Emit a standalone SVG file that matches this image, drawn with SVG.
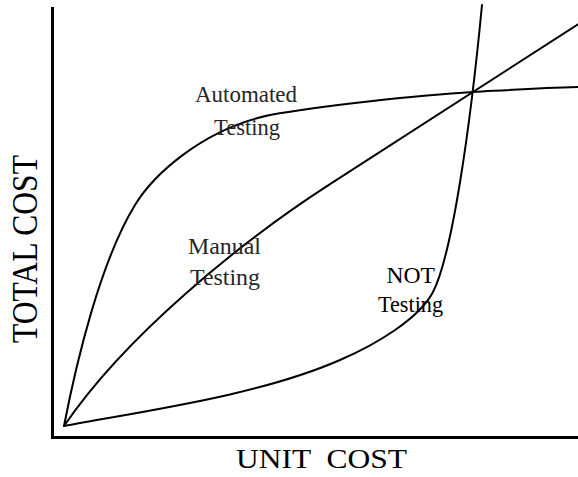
<svg xmlns="http://www.w3.org/2000/svg" width="578" height="477" viewBox="0 0 578 477">
  <style>
    .axis { stroke: #000; stroke-width: 3; fill: none; }
    .curve { stroke: #000; stroke-width: 2; fill: none; stroke-linecap: round; stroke-linejoin: round; }
    .lbl { font-family: "Liberation Serif", "Times New Roman", serif; font-size: 23px; fill: #262626; }
    .lbl2 { font-family: "Liberation Serif", "Times New Roman", serif; font-size: 23px; fill: #000; }
    .axlbl { font-family: "Liberation Serif", "Times New Roman", serif; fill: #000; white-space: pre; }
  </style>
  <rect x="0" y="0" width="578" height="477" fill="#fff"/>
  <g id="axes">
    <line class="axis" x1="52.5" y1="7" x2="52.5" y2="439"/>
    <line class="axis" x1="51" y1="437.5" x2="578" y2="437.5"/>
  </g>
  <g id="connectors">
    <path id="automated-curve" class="curve" d="M64,426 C76,364 100,262 135,205 C152,177 200,130 270,115 C320,106 420,95 473,92 S540,88 578,87"/>
    <path id="manual-curve" class="curve" d="M64,426 C125,336 240,242.3 330,184.2 L578,24.3"/>
    <path id="not-curve" class="curve" d="M64,426 C150,410 260,395 340,360 C375,345 419,319 433,292 C452,255 470,130 482,5"/>
  </g>
  <g id="label-automated">
    <text class="lbl" x="195" y="102" textLength="102" lengthAdjust="spacingAndGlyphs">Automated</text>
    <text class="lbl" x="214" y="135" textLength="66" lengthAdjust="spacingAndGlyphs">Testing</text>
  </g>
  <g id="label-manual">
    <text class="lbl" x="188" y="254" textLength="73" lengthAdjust="spacingAndGlyphs">Manual</text>
    <text class="lbl" x="190" y="285" textLength="70" lengthAdjust="spacingAndGlyphs">Testing</text>
  </g>
  <g id="label-not">
    <text class="lbl2" x="386.5" y="283" textLength="48.5" lengthAdjust="spacingAndGlyphs">NOT</text>
    <text class="lbl2" x="378" y="311.5" textLength="65" lengthAdjust="spacingAndGlyphs">Testing</text>
  </g>
  <g id="axis-labels">
    <text class="axlbl" transform="translate(36.5,249) rotate(-90)" text-anchor="middle" font-size="36" textLength="188" lengthAdjust="spacingAndGlyphs">TOTAL COST</text>
    <text class="axlbl" x="236" y="468.3" font-size="27" textLength="171" lengthAdjust="spacingAndGlyphs" xml:space="preserve">UNIT  COST</text>
  </g>
</svg>
